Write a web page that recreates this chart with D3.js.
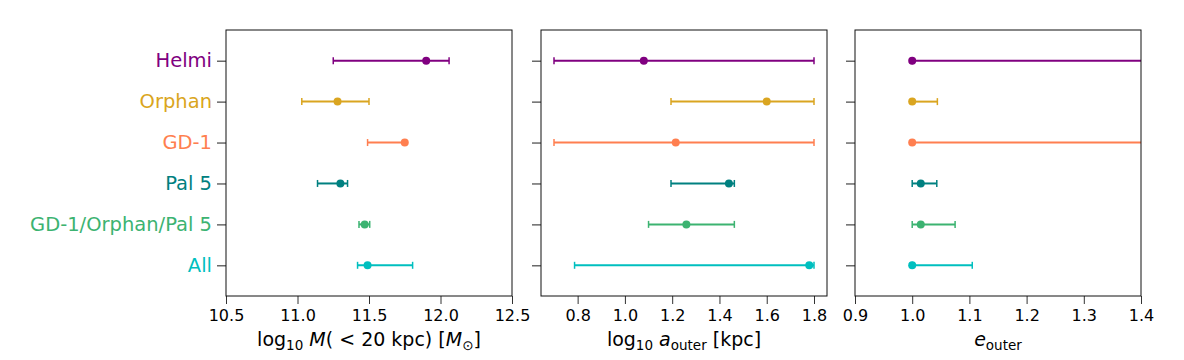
<!DOCTYPE html>
<html>
<head>
<meta charset="utf-8">
<script src="https://cdn.jsdelivr.net/npm/d3@7"></script>
<style>
  body { margin: 0; background: #fff; }
  text { font-family: "DejaVu Sans", sans-serif; }
</style>
</head>
<body>
<svg id="chart" width="1184" height="360"></svg>
<script>
const streams = ['Helmi', 'Orphan', 'GD-1', 'Pal 5', 'GD-1/Orphan/Pal 5', 'All'];
const colors = ['#800080', '#daa520', '#ff7f50', '#008080', '#3cb371', '#00bfbf'];

// [value, low, high] per stream
const massVals = [[11.90, 11.25, 12.06], [11.28, 11.03, 11.50], [11.75, 11.49, 11.76],
                  [11.30, 11.14, 11.35], [11.47, 11.43, 11.505], [11.49, 11.42, 11.805]];
const aOuterVals = [[1.08, 0.70, 1.80], [1.60, 1.195, 1.80], [1.215, 0.70, 1.80],
                    [1.44, 1.195, 1.463], [1.26, 1.10, 1.463], [1.78, 0.787, 1.80]];
const eOuterVals = [[1.0, 1.0, 1.6], [1.0, 1.0, 1.044], [1.0, 1.0, 1.6],
                    [1.015, 1.0, 1.043], [1.015, 1.0, 1.075], [1.0, 1.0, 1.105]];

const massTicks = [10.5, 11.0, 11.5, 12.0, 12.5];
const aOuterTicks = [0.8, 1.0, 1.2, 1.4, 1.6, 1.8];
const eOuterTicks = [0.9, 1.0, 1.1, 1.2, 1.3, 1.4];

const svg = d3.select('#chart');
const plotTop = 30, plotBottom = 296;

const y = d3.scaleLinear().domain([-0.75, 5.75]).range([plotTop, plotBottom]);

const panels = [
    {x0: 226, x1: 512, domain: [10.5, 12.5], ticks: massTicks, data: massVals, label: 'mass'},
    {x0: 541, x1: 827, domain: [0.645, 1.855], ticks: aOuterTicks, data: aOuterVals, label: 'a'},
    {x0: 855, x1: 1141, domain: [0.9, 1.4], ticks: eOuterTicks, data: eOuterVals, label: 'e'}
];

const defs = svg.append('defs');

panels.forEach((p, pi) => {
    const x = d3.scaleLinear().domain(p.domain).range([p.x0, p.x1]);
    const g = svg.append('g');

    defs.append('clipPath').attr('id', 'clip' + pi)
        .append('rect')
        .attr('x', p.x0).attr('y', plotTop)
        .attr('width', p.x1 - p.x0).attr('height', plotBottom - plotTop);

    const marks = g.append('g').attr('clip-path', 'url(#clip' + pi + ')');

    p.data.forEach((d, i) => {
        const c = colors[i];
        const yy = y(i);
        marks.append('line')
            .attr('x1', x(d[1])).attr('x2', x(d[2]))
            .attr('y1', yy).attr('y2', yy)
            .attr('stroke', c).attr('stroke-width', 2);
        [d[1], d[2]].forEach(v => {
            marks.append('line')
                .attr('x1', x(v)).attr('x2', x(v))
                .attr('y1', yy - 3.5).attr('y2', yy + 3.5)
                .attr('stroke', c).attr('stroke-width', 1.5);
        });
        marks.append('circle')
            .attr('cx', x(d[0])).attr('cy', yy).attr('r', 4)
            .attr('fill', c);
    });

    // x axis
    const xAxis = g.append('g')
        .attr('transform', 'translate(0,' + plotBottom + ')')
        .call(d3.axisBottom(x).tickValues(p.ticks).tickSize(8).tickPadding(6)
            .tickFormat(d3.format('.1f')));
    xAxis.select('.domain').remove();
    xAxis.selectAll('.tick line').attr('stroke', '#333').attr('stroke-width', 1);
    xAxis.selectAll('.tick text').attr('font-size', 16).attr('fill', '#000')
        .style('font-family', '"DejaVu Sans", sans-serif');

    // y axis ticks
    const yAxis = g.append('g')
        .attr('transform', 'translate(' + p.x0 + ',0)')
        .call(d3.axisLeft(y).tickValues(d3.range(streams.length)).tickSize(9).tickPadding(5)
            .tickFormat(i => pi === 0 ? streams[i] : ''));
    yAxis.select('.domain').remove();
    yAxis.selectAll('.tick line').attr('stroke', '#444').attr('stroke-width', 1.2);
    yAxis.selectAll('.tick text')
        .attr('font-size', 19.5)
        .attr('fill', (d, i) => colors[i])
        .style('font-family', '"DejaVu Sans", sans-serif');

    // frame
    g.append('rect')
        .attr('x', p.x0).attr('y', plotTop)
        .attr('width', p.x1 - p.x0).attr('height', plotBottom - plotTop)
        .attr('fill', 'none').attr('stroke', '#111').attr('stroke-width', 1);

    // axis label
    const cx = (p.x0 + p.x1) / 2;
    const lab = g.append('text')
        .attr('x', cx).attr('y', 346)
        .attr('text-anchor', 'middle')
        .attr('font-size', 19)
        .attr('fill', '#000');
    if (p.label === 'mass') {
        lab.append('tspan').text('log');
        lab.append('tspan').attr('font-size', 13.5).attr('dy', 4).text('10');
        lab.append('tspan').attr('dy', -4).text(' ');
        lab.append('tspan').attr('font-style', 'italic').text('M');
        lab.append('tspan').text('( < 20 kpc) [');
        lab.append('tspan').attr('font-style', 'italic').text('M');
        lab.append('tspan').attr('font-size', 13.5).attr('dy', 4).text('⊙');
        lab.append('tspan').attr('dy', -4).text(']');
    } else if (p.label === 'a') {
        lab.append('tspan').text('log');
        lab.append('tspan').attr('font-size', 13.5).attr('dy', 4).text('10');
        lab.append('tspan').attr('dy', -4).text(' ');
        lab.append('tspan').attr('font-style', 'italic').text('a');
        lab.append('tspan').attr('font-size', 13.5).attr('dy', 4).text('outer');
        lab.append('tspan').attr('dy', -4).text(' [kpc]');
    } else {
        lab.append('tspan').attr('font-style', 'italic').text('e');
        lab.append('tspan').attr('font-size', 13.5).attr('dy', 4).text('outer');
    }
});
</script>
</body>
</html>
